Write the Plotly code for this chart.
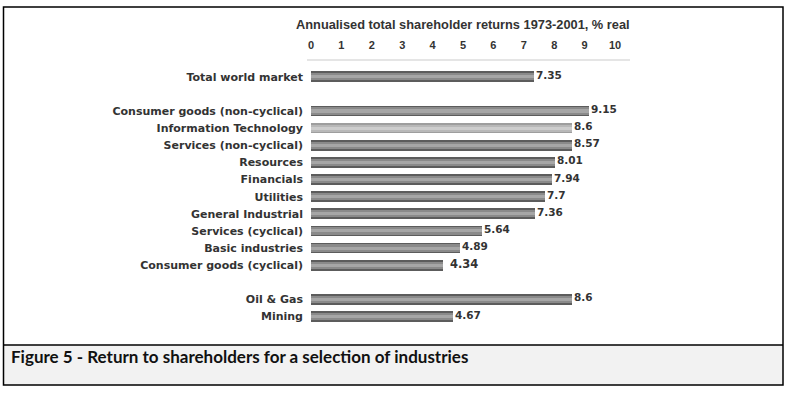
import plotly.graph_objects as go

# ---- data ----
categories = ["Total world market", " ",
              "Consumer goods (non-cyclical)", "Information Technology",
              "Services (non-cyclical)", "Resources", "Financials", "Utilities",
              "General Industrial", "Services (cyclical)", "Basic industries",
              "Consumer goods (cyclical)", "  ", "Oil & Gas", "Mining"]
values = [7.35, None, 9.15, 8.6, 8.57, 8.01, 7.94, 7.7, 7.36, 5.64, 4.89, 4.34,
          None, 8.6, 4.67]
labels = ["7.35", "", "9.15", "8.6", "8.57", "8.01", "7.94", "7.7", "7.36",
          "5.64", "4.89", "4.34", "", "8.6", "4.67"]
tick_vals = [0, 1, 2, 3, 4, 5, 6, 7, 8, 9, 10]
axis_title = "Annualised total shareholder returns 1973-2001, % real"
caption = "Figure 5 - Return to shareholders for a selection of industries"

W, H = 791, 394
L, R, T, B = 311, 615, 60, 330

def px(x):
    return (x - L) / (R - L)

def py(y):
    return 1 - (y - T) / (B - T)

outer = ["#5c5c5c" if c != "Information Technology" else "#9e9e9e" for c in categories]
mid = ["#8a8a8a" if c != "Information Technology" else "#b8b8b8" for c in categories]
inner = ["#a6a6a6" if c != "Information Technology" else "#cdcdcd" for c in categories]

fig = go.Figure()
fig.add_trace(go.Bar(y=categories, x=values, orientation="h", width=0.62,
                     marker=dict(color=outer, line=dict(width=0)),
                     hoverinfo="skip"))
fig.add_trace(go.Bar(y=categories, x=values, orientation="h", width=0.42,
                     marker=dict(color=mid, line=dict(width=0)),
                     hoverinfo="skip"))
fig.add_trace(go.Bar(y=categories, x=values, orientation="h", width=0.18,
                     marker=dict(color=inner, line=dict(width=0)),
                     hoverinfo="skip"))

font_lab = "DejaVu Sans, sans-serif"
font_ttl = "Liberation Sans, Arial, sans-serif"
for c, v, t in zip(categories, values, labels):
    if v is None:
        continue
    big = c == "Consumer goods (cyclical)"
    fig.add_annotation(x=v, y=c, xref="x", yref="y", text=t, showarrow=False,
                       xanchor="left", yanchor="middle",
                       xshift=5 if big else 0, yshift=1 if big else 2,
                       font=dict(family=font_lab, size=11.5 if big else 10.5,
                                 color="#333333", weight="bold"))

# axis title
fig.add_annotation(x=0.5, y=py(24), xref="paper", yref="paper", text=axis_title,
                   showarrow=False, xanchor="center", yanchor="middle",
                   font=dict(family=font_ttl, size=12.8, color="#333333", weight="bold"))

# caption
fig.add_annotation(x=px(9), y=py(356), xref="paper", yref="paper", text=caption,
                   showarrow=False, xanchor="left", yanchor="middle",
                   font=dict(family="Lato, sans-serif", size=17, color="#111111", weight="bold"))

shapes = [
    dict(type="rect", xref="paper", yref="paper", x0=px(3), x1=px(783), y0=py(345), y1=py(385),
         fillcolor="#f2f2f2", line=dict(width=0), layer="below"),
    dict(type="rect", xref="paper", yref="paper", x0=px(3.5), x1=px(783), y0=py(7), y1=py(385),
         line=dict(color="black", width=1.5), fillcolor="rgba(0,0,0,0)"),
    dict(type="line", xref="paper", yref="paper", x0=px(3.5), x1=px(783), y0=py(345), y1=py(345),
         line=dict(color="black", width=1.5)),
    dict(type="line", xref="paper", yref="paper", x0=px(307), x1=px(630), y0=py(60), y1=py(60),
         line=dict(color="#dddddd", width=1.5)),
]

fig.update_layout(
    width=W, height=H,
    margin=dict(l=L, r=W - R, t=T, b=H - B, pad=0),
    paper_bgcolor="white", plot_bgcolor="white",
    barmode="overlay", showlegend=False, bargap=0,
    shapes=shapes,
    xaxis=dict(side="top", range=[0, 10], tickvals=tick_vals, showgrid=False,
               zeroline=False, showline=False, ticks="", ticklabelstandoff=8,
               tickfont=dict(family=font_ttl, size=11, color="#333333", weight="bold"),
               fixedrange=True),
    yaxis=dict(type="category", categoryorder="array", categoryarray=categories,
               range=[14.78, -0.974], showgrid=False, zeroline=False, showline=False,
               ticks="", ticklabelstandoff=7,
               tickfont=dict(family=font_lab, size=11, color="#333333", weight="bold"),
               fixedrange=True),
)

fig.write_html("out.html", config={"displayModeBar": False, "staticPlot": True},
               post_script="document.body.style.margin='0';")
